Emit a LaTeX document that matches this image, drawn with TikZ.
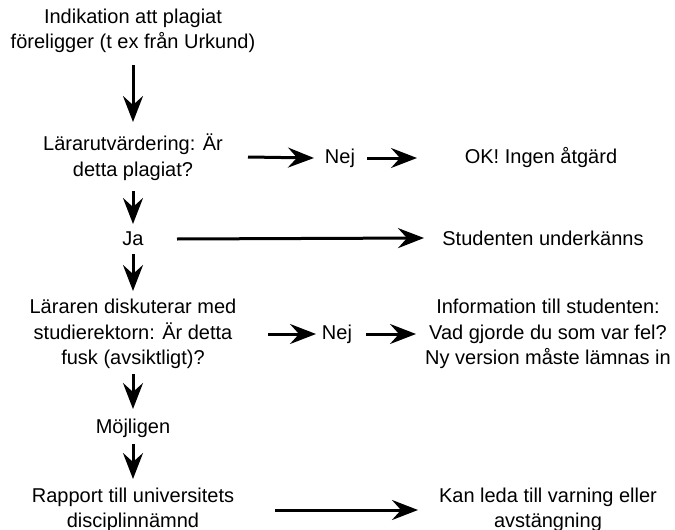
\documentclass[tikz,border=0pt]{standalone}
\usepackage{fontspec}
\setmainfont{Liberation Sans}
\usetikzlibrary{arrows.meta}
\begin{document}
\begin{tikzpicture}[x=1pt,y=-1pt,
  txt/.style={align=center,inner sep=0pt,font=\fontsize{20}{25.5}\selectfont},
  arr/.style={line width=3pt,-{Stealth[length=26pt,width=20pt,inset=9pt]}}]
\useasboundingbox[fill=white] (0,0) rectangle (675,530);
% left column
\node[txt] (top) at (133,31) {Indikation att plagiat\\föreligger (t ex från Urkund)};
\node[txt] (q1) at (133,157) {Lärarutvärdering: Är\\detta plagiat?};
\node[txt] (ja) at (133,239) {Ja};
\node[txt] (q2) at (133,334) {Läraren diskuterar med\\studierektorn: Är detta\\fusk (avsiktligt)?};
\node[txt] (moj) at (133,428) {Möjligen};
\node[txt] (rap) at (133,510) {Rapport till universitets\\disciplinnämnd};
% middle
\node[txt] (nej1) at (340,158) {Nej};
\node[txt] (nej2) at (337,334) {Nej};
% right column
\node[txt] (ok) at (541,158) {OK! Ingen åtgärd};
\node[txt] (stud) at (543,238) {Studenten underkänns};
\node[txt] (info) at (548,334) {Information till studenten:\\Vad gjorde du som var fel?\\Ny version måste lämnas in};
\node[txt] (kan) at (548,510) {Kan leda till varning eller\\avstängning};
% vertical arrows
\draw[arr] (top.south |- 0,65) -- (q1.north |- 0,122);
\draw[arr] (q1.south |- 0,191) -- (ja.north |- 0,224);
\draw[arr] (ja.south |- 0,254) -- (q2.north |- 0,291);
\draw[arr] (q2.south |- 0,374) -- (moj.north |- 0,409);
\draw[arr] (moj.south |- 0,444) -- (rap.north |- 0,479);
% horizontal arrows
\draw[arr] (q1.east -| 248,0) -- (nej1.west -| 314,0);
\draw[arr] (nej1.east -| 367,0) -- (ok.west -| 417,0);
\draw[arr] (ja.east -| 177,0) -- (stud.west -| 424,0);
\draw[arr] (q2.east -| 268,0) -- (nej2.west -| 316,0);
\draw[arr] (nej2.east -| 366,0) -- (info.west -| 416,0);
\draw[arr] (rap.east -| 275,0) -- (kan.west -| 418,0);
\end{tikzpicture}
\end{document}
